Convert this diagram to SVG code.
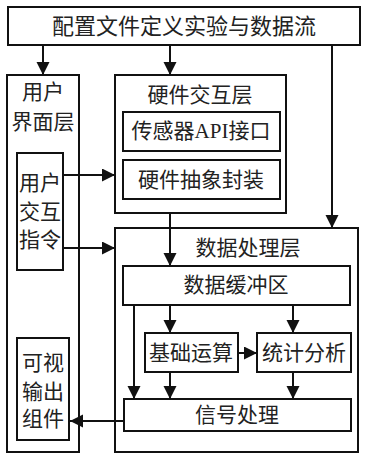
<svg xmlns="http://www.w3.org/2000/svg" width="365" height="457" viewBox="0 0 365 457">
<style>
.box{fill:#fff;stroke:#111;stroke-width:2}
.t{font-family:"Liberation Serif","Noto Sans CJK SC",serif;font-size:21px;fill:#222;text-anchor:middle;dominant-baseline:central}
.ln{fill:none;stroke:#111;stroke-width:2}
</style>
<defs>
<marker id="ah" markerUnits="userSpaceOnUse" markerWidth="14" markerHeight="14" refX="13" refY="6.5" orient="auto">
<path d="M0,0 L13,6.5 L0,13 z" fill="#111"/>
</marker>
</defs>
<rect width="365" height="457" fill="#fff"/>
<g id="config"><rect class="box" x="8" y="7" width="352" height="38"/><text class="t" x="184" y="26" style="font-size:22px">配置文件定义实验与数据流</text></g>
<g id="ui-layer"><rect class="box" x="7" y="75" width="72" height="377"/><text class="t" x="43" y="92">用户</text><text class="t" x="43" y="122">界面层</text></g>
<g id="ui-cmd"><rect class="box" x="17" y="153" width="46" height="117"/><text class="t" x="40" y="183">用户</text><text class="t" x="40" y="212">交互</text><text class="t" x="40" y="240">指令</text></g>
<g id="visual"><rect class="box" x="17" y="338" width="52" height="102"/><text class="t" x="43" y="363">可视</text><text class="t" x="43" y="392">输出</text><text class="t" x="43" y="419">组件</text></g>
<g id="hw-layer"><rect class="box" x="115" y="75" width="171" height="138"/><text class="t" x="200" y="95">硬件交互层</text></g>
<g id="sensor-api"><rect class="box" x="123" y="112" width="157" height="39"/><text class="t" x="201" y="131">传感器API接口</text></g>
<g id="hw-abs"><rect class="box" x="123" y="160" width="157" height="39"/><text class="t" x="201" y="180">硬件抽象封装</text></g>
<g id="dp-layer"><rect class="box" x="115" y="228" width="243" height="224"/><text class="t" x="248" y="248">数据处理层</text></g>
<g id="buffer"><rect class="box" x="123" y="266" width="227" height="39"/><text class="t" x="236" y="285">数据缓冲区</text></g>
<g id="basic"><rect class="box" x="145" y="333" width="93" height="39"/><text class="t" x="191" y="353">基础运算</text></g>
<g id="stats"><rect class="box" x="257" y="333" width="94" height="39"/><text class="t" x="304" y="353">统计分析</text></g>
<g id="signal"><rect class="box" x="124" y="399" width="227" height="32"/><text class="t" x="237" y="415">信号处理</text></g>
<g id="connectors">
<line class="ln" x1="43" y1="45" x2="43" y2="75" marker-end="url(#ah)"/>
<line class="ln" x1="170" y1="45" x2="170" y2="75" marker-end="url(#ah)"/>
<line class="ln" x1="332" y1="45" x2="332" y2="228" marker-end="url(#ah)"/>
<line class="ln" x1="63" y1="175" x2="115" y2="175" marker-end="url(#ah)"/>
<line class="ln" x1="63" y1="248" x2="115" y2="248" marker-end="url(#ah)"/>
<line class="ln" x1="170" y1="213" x2="170" y2="266" marker-end="url(#ah)"/>
<line class="ln" x1="170" y1="305" x2="170" y2="333" marker-end="url(#ah)"/>
<line class="ln" x1="293" y1="305" x2="293" y2="333" marker-end="url(#ah)"/>
<line class="ln" x1="238" y1="353" x2="257" y2="353" marker-end="url(#ah)"/>
<line class="ln" x1="134" y1="305" x2="134" y2="399" marker-end="url(#ah)"/>
<line class="ln" x1="170" y1="372" x2="170" y2="399" marker-end="url(#ah)"/>
<line class="ln" x1="293" y1="372" x2="293" y2="399" marker-end="url(#ah)"/>
<line class="ln" x1="124" y1="421" x2="70" y2="421" marker-end="url(#ah)"/>
</g>
</svg>
